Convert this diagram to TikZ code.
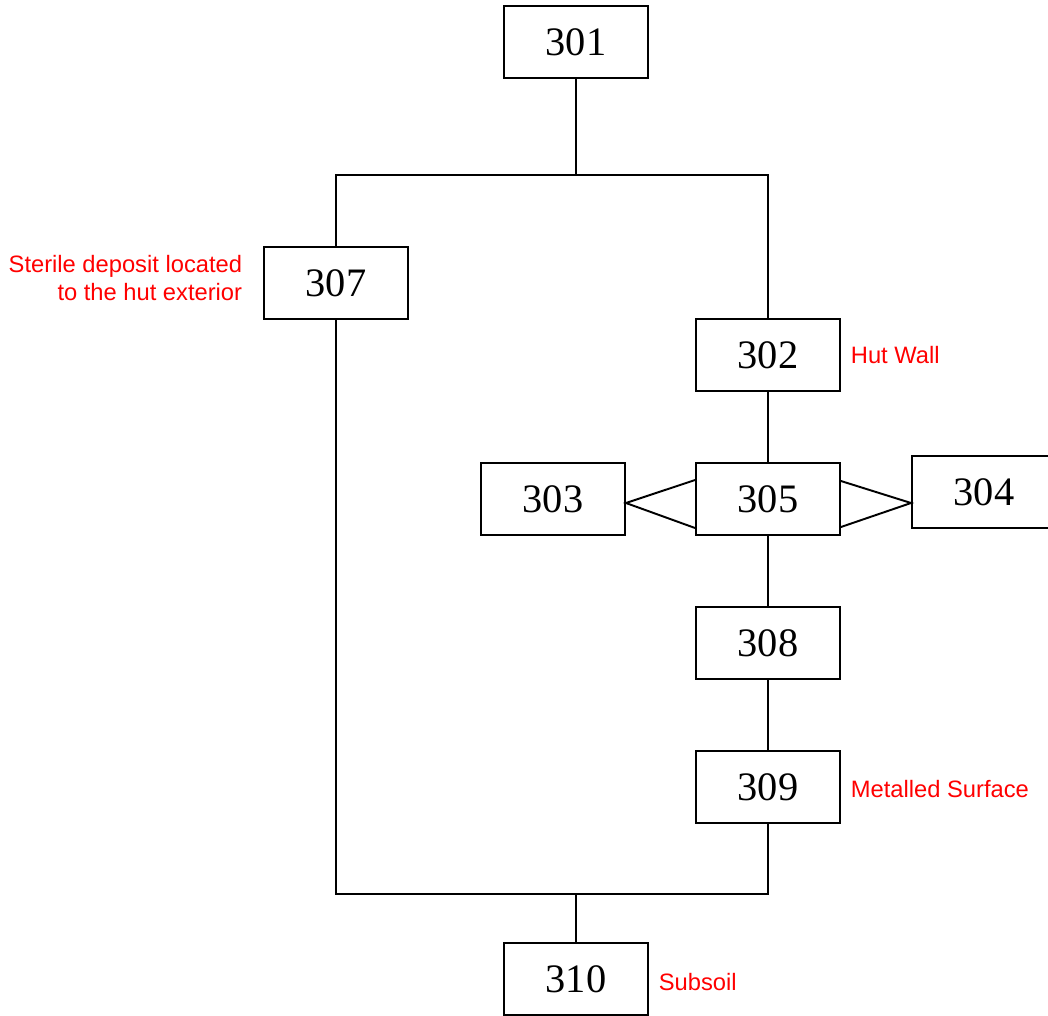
\documentclass[tikz,border=0pt]{standalone}
\usepackage{fontspec}
\setmainfont{Liberation Serif}
\newfontfamily\notafont{Liberation Sans}
\usetikzlibrary{positioning}

\tikzset{
	caja/.style={rectangle, draw, minimum width=2.88cm, minimum height=1.44cm, inner sep=0pt, font=\fontsize{23}{23}\selectfont},
	nota/.style={text=red, inner sep=0pt, font=\notafont\fontsize{13.5}{15.4}\selectfont}
}

\begin{document}
\begin{tikzpicture}[x=0.02cm, y=-0.02cm, line width=1.1pt]
\clip (0,0) rectangle (1048,1015);

% Cajas
\node[caja] (b301) at (576,42) {301};
\node[caja] (b307) at (336,283) {307};
\node[caja] (b302) at (768,355) {302};
\node[caja] (b303) at (553,499) {303};
\node[caja] (b305) at (768,499) {305};
\node[caja] (b304) at (984,492) {304};
\node[caja] (b308) at (768,643) {308};
\node[caja] (b309) at (768,787) {309};
\node[caja] (b310) at (576,979) {310};

\coordinate (jtop) at (576,175);
\coordinate (jbot) at (576,894);

% Lineas
\draw (b301) -- (jtop);
\draw (b307.north) -- (b307.north |- jtop) -- (b302.north |- jtop) -- (b302.north);
\draw (b307.south) -- (b307.south |- jbot) -- (b309.south |- jbot) -- (b309.south);
\draw (jbot) -- (b310);

	\foreach \a/\b in {302/305, 305/308, 308/309}
		\draw (b\a) -- (b\b);

% Cunas
\draw ([yshift=0.38cm]b305.west) -- ([yshift=-0.08cm]b303.east) -- ([yshift=-0.58cm]b305.west);
\draw ([yshift=0.36cm]b305.east) -- ([yshift=-0.22cm]b304.west) -- ([yshift=-0.56cm]b305.east);

% Notas
\node[nota, align=right, left=0.4cm of b307, yshift=0.1cm] (n307) {Sterile deposit located\\to the hut exterior};
\node[nota, right=0.18cm of b302] (n302) {Hut Wall};
\node[nota, right=0.18cm of b309, yshift=-0.04cm] (n309) {Metalled Surface};
\node[nota, right=0.18cm of b310, yshift=-0.06cm] (n310) {Subsoil};
\end{tikzpicture}
\end{document}
